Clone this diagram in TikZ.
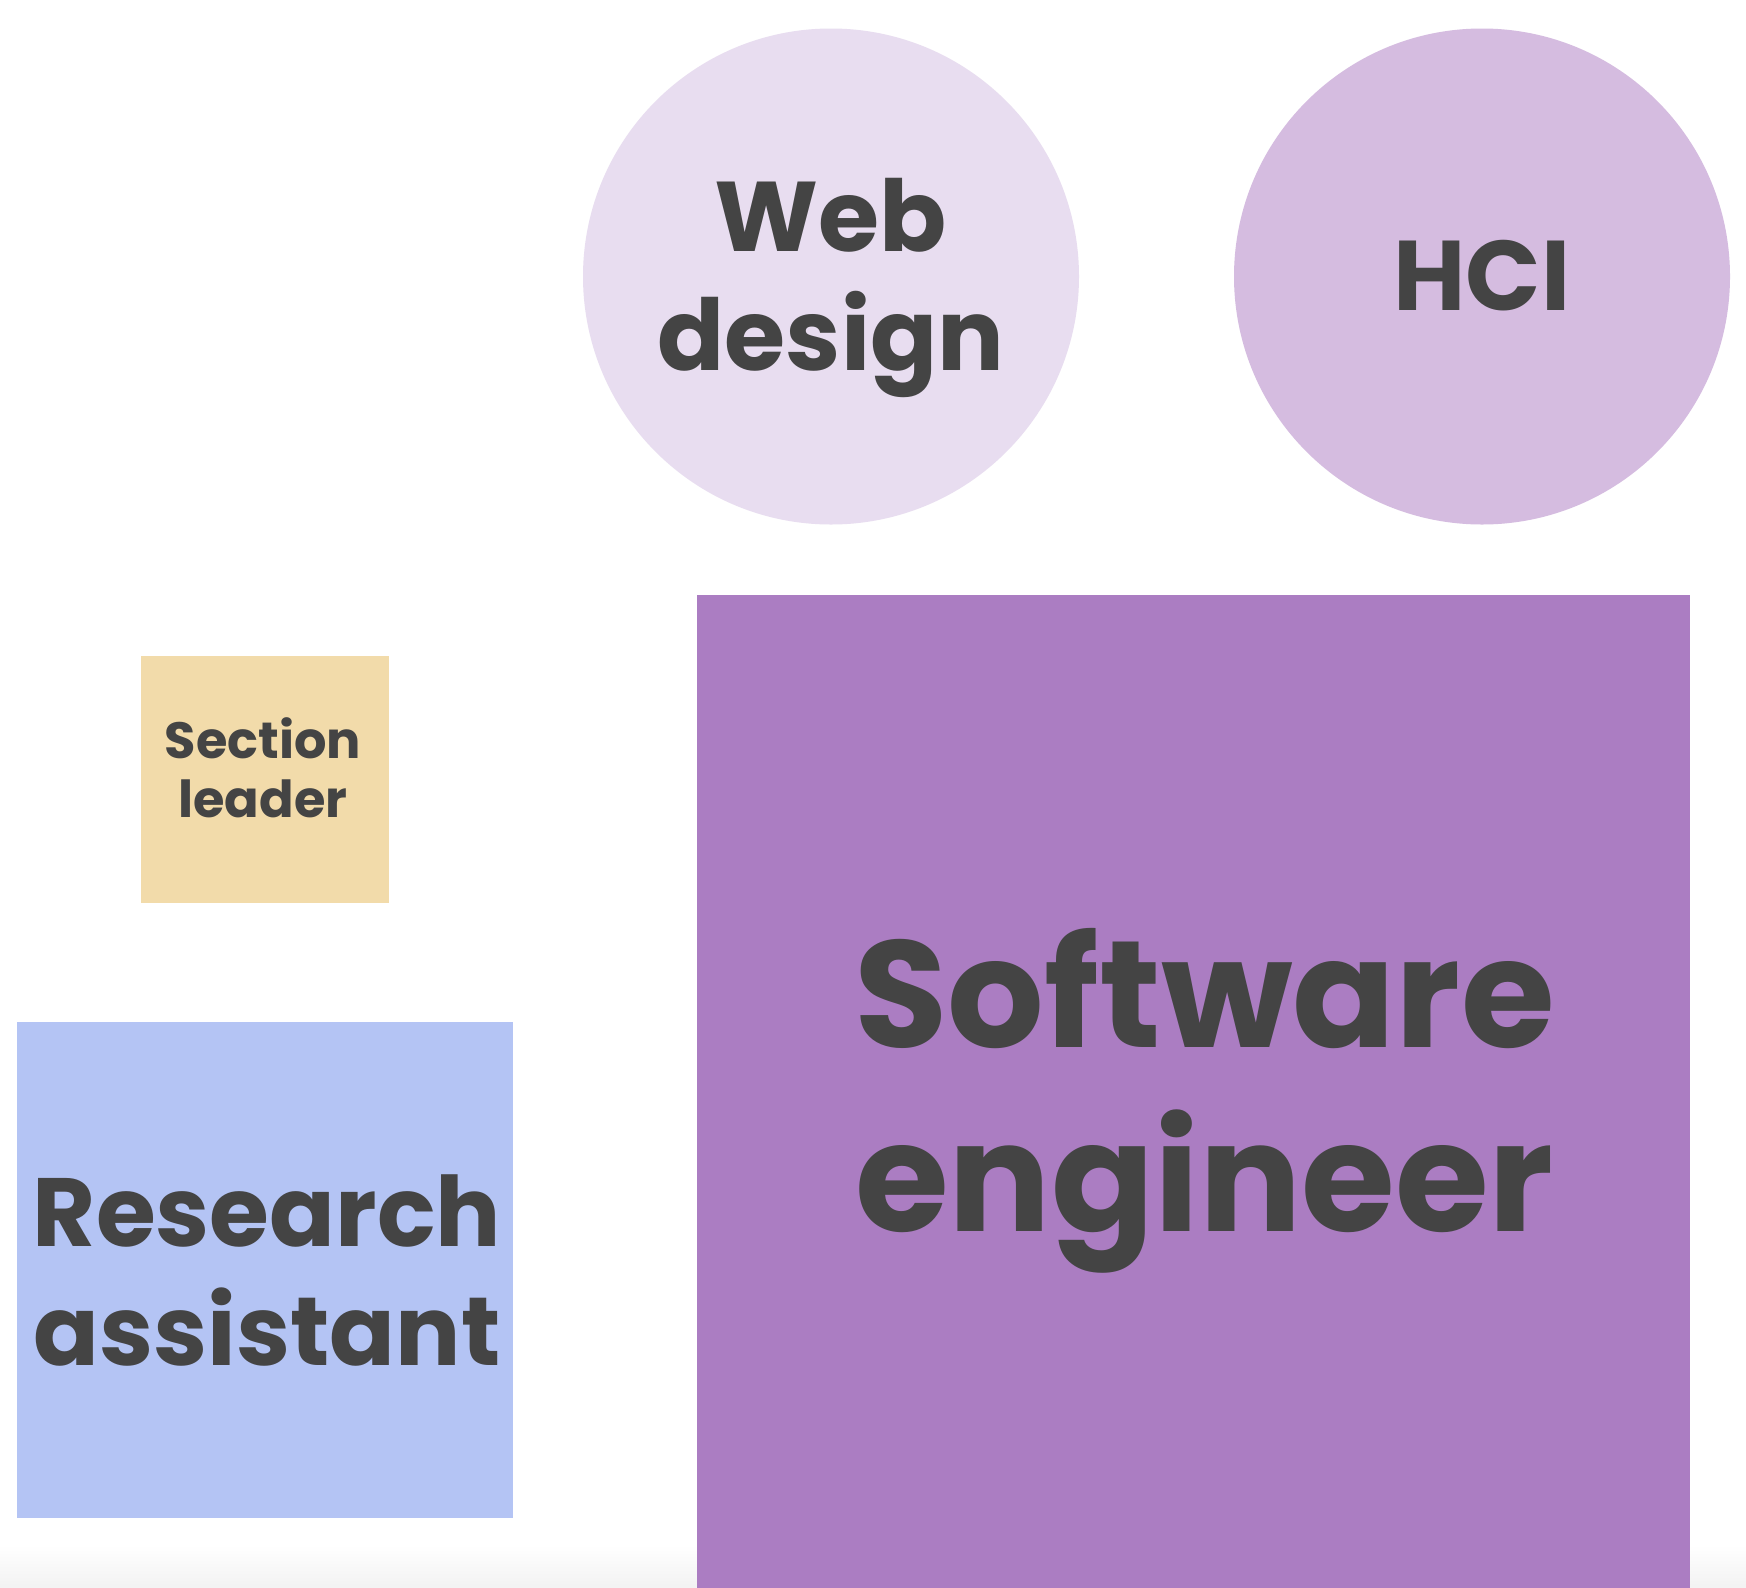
\documentclass[tikz,border=0pt]{standalone}
\usepackage{fontspec}
\setmainfont{Poppins}
\definecolor{txt}{HTML}{444444}
\definecolor{webc}{HTML}{E8DDF0}
\definecolor{hcic}{HTML}{D5BCE0}
\definecolor{sec}{HTML}{AB7DC2}
\definecolor{secl}{HTML}{F2DBAA}
\definecolor{rac}{HTML}{B4C4F4}
\tikzset{
  blob/.style={circle, draw=none, inner sep=0pt, minimum size=496pt},
  tile/.style={rectangle, draw=none, inner sep=0pt},
  lbl/.style={text=txt, align=center, inner sep=0pt, font=\bfseries},
}
\begin{document}
\begin{tikzpicture}[x=1pt,y=-1pt]
\useasboundingbox (0,0) rectangle (1746,1588);
\fill[white] (0,0) rectangle (1746,1588);
\shade[top color=white, bottom color=black!5] (0,1545) rectangle (1746,1588);
% shapes
\node[blob, fill=webc] (web) at (831,276.5) {};
\node[blob, fill=hcic] (hci) at (1482,276.5) {};
\node[tile, fill=sec, minimum width=993pt, minimum height=993pt] (se) at (1193.5,1091.5) {};
\node[tile, fill=secl, minimum width=248pt, minimum height=247pt] (sl) at (265,779.5) {};
\node[tile, fill=rac, minimum width=496pt, minimum height=496pt] (ra) at (265,1270) {};
% labels
\node[lbl, font=\bfseries\fontsize{99}{119}\selectfont] (webt) at (831,287.5) {Web\\design};
\node[lbl, font=\bfseries\fontsize{99}{119}\selectfont] (hcit) at (1482,276) {HCI};
\node[lbl, font=\bfseries\fontsize{152}{184}\selectfont] (set) at (1204.5,1101) {Software\\engineer};
\node[lbl, font=\bfseries\fontsize{51}{59}\selectfont] (slt) at (263,768) {Section\\leader};
\node[lbl, font=\bfseries\fontsize{97}{119}\selectfont] (rat) at (267,1270) {Research\\assistant};
\end{tikzpicture}
\end{document}
